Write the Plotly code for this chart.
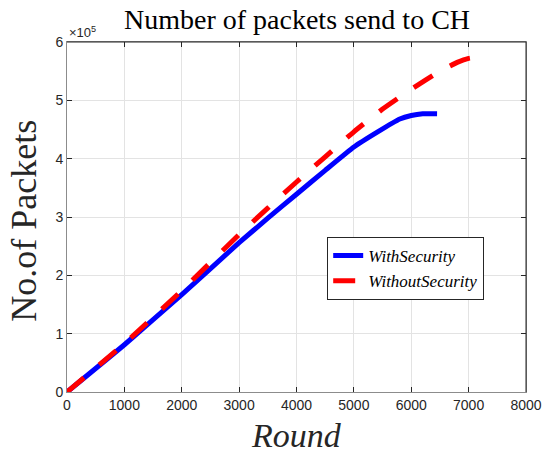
import plotly.graph_objects as go

# Rounds and cumulative packets sent to the cluster head (units of 1e5 packets)
rounds_with = [0, 1000, 2000, 3000, 3500, 4000, 4500, 5000, 5400, 5800, 6000,
               6200, 6450]
packets_with = [0, 0.81, 1.67, 2.56, 2.98, 3.39, 3.80, 4.20, 4.45, 4.68, 4.74,
                4.77, 4.77]

rounds_without = [0, 1000, 2000, 3000, 4000, 5000, 5500, 6000, 6500, 6800,
                  7000, 7160]
packets_without = [0, 0.83, 1.74, 2.70, 3.60, 4.46, 4.85, 5.19, 5.50, 5.65,
                   5.72, 5.74]

x_ticks = [0, 1000, 2000, 3000, 4000, 5000, 6000, 7000, 8000]
y_ticks = [0, 1, 2, 3, 4, 5, 6]
SCALE = 1e5

serif = "Liberation Serif"
sans = "Liberation Sans, Arial, sans-serif"
dark = "#262626"

fig = go.Figure()
fig.add_trace(go.Scatter(
    x=rounds_with, y=[v * SCALE for v in packets_with],
    mode="lines", name="<i>WithSecurity</i>",
    line=dict(color="#0000ff", width=5, shape="spline", smoothing=0.4),
))
fig.add_trace(go.Scatter(
    x=rounds_without, y=[v * SCALE for v in packets_without],
    mode="lines", name="<i>WithoutSecurity</i>",
    line=dict(color="#ff0000", width=5, dash="22px,20px", shape="spline", smoothing=0.4),
))

axis_common = dict(
    showgrid=True, gridcolor="#e3e3e3", gridwidth=1,
    showline=True, linecolor="#8c8c8c", linewidth=1, mirror="allticks",
    ticks="inside", ticklen=5, tickcolor=dark, tickwidth=1,
    tickfont=dict(family=sans, size=14, color=dark),
    zeroline=False,
)

plot_h = 453 - 42 - 61
plot_w = 554 - 67 - 16

fig.update_layout(
    width=554, height=453,
    margin=dict(l=67, r=16, t=42, b=61),
    paper_bgcolor="white", plot_bgcolor="white",
    showlegend=True,
    legend=dict(
        x=(334 - 67) / plot_w, y=(392 - 237) / plot_h,
        xanchor="left", yanchor="top",
        bgcolor="white", bordercolor=dark, borderwidth=1,
        font=dict(family=serif, size=17, color="black"),
        tracegroupgap=0,
    ),
    xaxis=dict(range=[0, 8000], tickvals=x_ticks,
               ticktext=[str(v) for v in x_ticks], **axis_common),
    yaxis=dict(range=[0, 6 * SCALE], tickvals=[v * SCALE for v in y_ticks],
               ticktext=[str(v) for v in y_ticks], **axis_common),
    shapes=[
        dict(type="line", xref="paper", yref="paper", x0=0, x1=1, y0=1, y1=1,
             line=dict(color=dark, width=1)),
        dict(type="line", xref="paper", yref="paper", x0=1, x1=1, y0=0, y1=1,
             line=dict(color=dark, width=1)),
    ],
    annotations=[
        dict(text="Number of packets send to CH", x=0.5, xref="paper",
             y=1 + (42 - 19) / plot_h, yref="paper", showarrow=False,
             yanchor="middle",
             font=dict(family=serif, size=28, color="black")),
        dict(text="×10<sup>5</sup>", x=0, xref="paper", y=1, yref="paper",
             xanchor="left", yanchor="bottom", showarrow=False,
             font=dict(family=sans, size=13, color=dark)),
        dict(text="No.of Packets", x=(22 - 67) / plot_w, xref="paper",
             y=0.49, yref="paper",
             textangle=-90, showarrow=False, xanchor="center", yanchor="middle",
             font=dict(family=serif, size=36, color=dark)),
        dict(text="<i>Round</i>", x=0.5, xref="paper",
             y=(392 - 435) / plot_h, yref="paper",
             showarrow=False, xanchor="center", yanchor="middle",
             font=dict(family=serif, size=34, color=dark)),
    ],
)

fig.write_html("out.html")
